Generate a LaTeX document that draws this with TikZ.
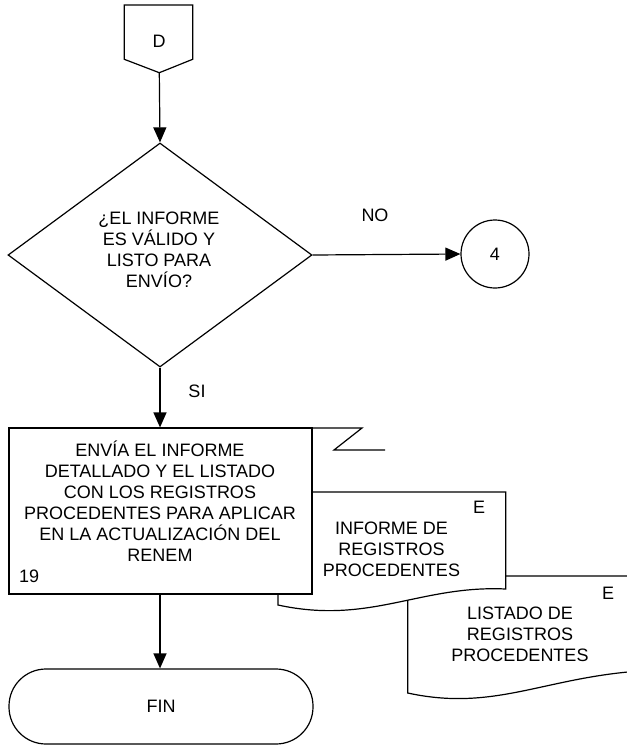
\documentclass[tikz,border=0pt]{standalone}
\usepackage{fontspec}
\setmainfont{Liberation Sans}
\usetikzlibrary{arrows.meta,shapes.geometric}
\begin{document}
\begin{tikzpicture}[x=1pt,y=-1pt,
  every node/.style={font=\fontsize{18}{21}\selectfont, text=black},
  shp/.style={draw=black, line width=1.2pt, fill=white},
  flow/.style={draw=black, line width=1.2pt, -{Triangle[length=15pt,width=13pt]}},
  txt/.style={align=center, inner sep=0pt},
  decision/.style={shp, diamond, minimum width=304pt, minimum height=224pt, inner sep=0pt},
  procbox/.style={shp, rectangle, minimum width=303pt, minimum height=166pt, inner sep=0pt},
  connector/.style={shp, circle, minimum size=68pt, inner sep=0pt},
  terminal/.style={shp, rectangle, rounded corners=37pt, minimum width=304pt, minimum height=75pt, inner sep=0pt}
]
\useasboundingbox (0,0) rectangle (627,745);
\clip (0,0) rectangle (627,745);

% off-page connector D
\draw[shp] (124.3,5) -- (192.7,5) -- (192.7,59.3) -- (159.3,72.7) -- (124.3,59.3) -- cycle;
\coordinate (dtip) at (159.3,72.7);
\node[txt] (dlbl) at (159,41) {D};

% decision
\node[decision] (q) at (160,255) {};
\node[txt] (qtxt) at (159,250) {¿EL INFORME\\ES VÁLIDO Y\\LISTO PARA\\ENVÍO?};

% connector 4
\node[connector] (c4) at (495,254) {4};

% documents behind the process box
\draw[shp] (407.7,576) -- (660,576) -- (660,670)
  .. controls (549.7,673) and (499.7,713) .. (407.7,693) -- cycle;
\draw[shp] (278,492) -- (505.7,492) -- (505.7,589)
  .. controls (420,585) and (370,625) .. (278,605) -- cycle;
\node[txt] (e1) at (479,507) {E};
\node[txt] (doc1) at (391.5,549.5) {INFORME DE\\REGISTROS\\PROCEDENTES};
\node[txt] (e2) at (608,593) {E};
\node[txt] (doc2) at (520,634.5) {LISTADO DE\\REGISTROS\\PROCEDENTES};

% break mark at the top right of the process box
\draw[line width=1.2pt] (311,428) -- (362,428) -- (334,450) -- (385,450);

% process step 19
\node[procbox] (p19) at (160.5,511) {};
\node[txt] (p19txt) at (160,501) {ENVÍA EL INFORME\\DETALLADO Y EL LISTADO\\CON LOS REGISTROS\\PROCEDENTES PARA APLICAR\\EN LA ACTUALIZACIÓN DEL\\RENEM};
\node[txt, anchor=west] (p19num) at (19,576) {19};

% terminal
\node[terminal] (fin) at (161,706.5) {FIN};

% flow lines
\draw[flow] (dtip) -- (q.north);
\draw[flow] (q.east) -- (c4.west);
\draw[flow] (q.south) -- (p19.north -| q.south);
\draw[flow] (p19.south -| q.south) -- (fin.north -| q.south);

% branch labels
\node[txt] (no) at (375,215) {NO};
\node[txt] (si) at (197,391) {SI};
\end{tikzpicture}
\end{document}
